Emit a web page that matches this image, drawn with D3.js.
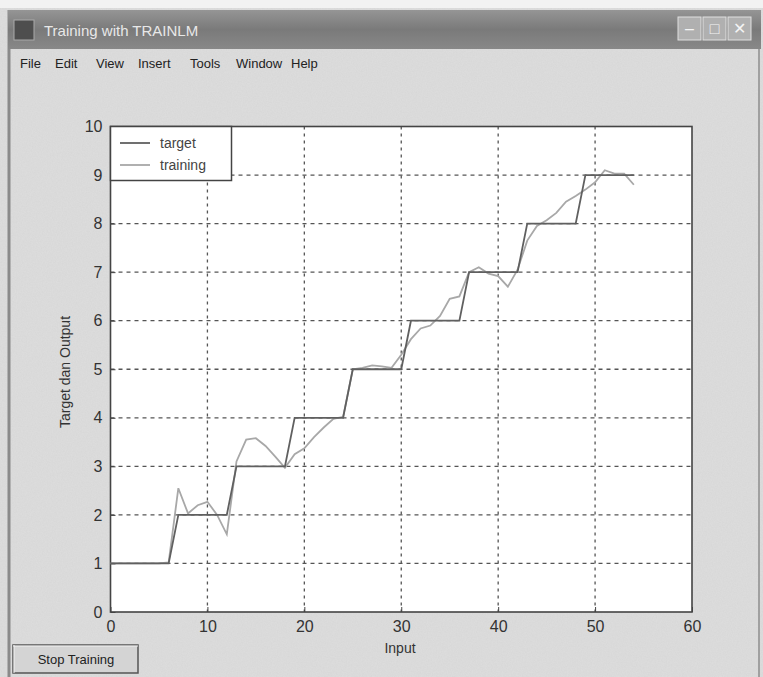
<!DOCTYPE html>
<html><head><meta charset="utf-8">
<script src="https://cdn.jsdelivr.net/npm/d3@7/dist/d3.min.js"></script>
<style>
html,body{margin:0;padding:0;background:#d9d9d9;}
svg{display:block;}
text{font-family:"Liberation Sans",Arial,sans-serif;}
</style></head>
<body>
<svg id="chart" width="763" height="677"></svg>
<script>
// ---- data ----
const inputs = [0,1,2,3,4,5,6,7,8,9,10,11,12,13,14,15,16,17,18,19,20,21,22,23,24,25,26,27,28,29,30,31,32,33,34,35,36,37,38,39,40,41,42,43,44,45,46,47,48,49,50,51,52,53,54];
const target = [1,1,1,1,1,1,1,2,2,2,2,2,2,3,3,3,3,3,3,4,4,4,4,4,4,5,5,5,5,5,5,6,6,6,6,6,6,7,7,7,7,7,7,8,8,8,8,8,8,9,9,9,9,9,9];
const training = [1.0,1.0,1.0,1.0,1.0,1.0,1.02,2.55,2.03,2.2,2.27,2.0,1.6,3.1,3.55,3.58,3.42,3.2,2.97,3.25,3.37,3.6,3.8,3.98,4.02,5.0,5.03,5.08,5.06,5.03,5.3,5.62,5.84,5.9,6.1,6.45,6.5,7.0,7.1,6.97,6.92,6.7,7.05,7.65,7.95,8.07,8.22,8.45,8.57,8.7,8.85,9.1,9.03,9.03,8.8];
const xTicks = [0,10,20,30,40,50,60];
const yTicks = [0,1,2,3,4,5,6,7,8,9,10];
const seriesNames = ["target","training"];
const menuItems = ["File","Edit","View","Insert","Tools","Window","Help"];
const windowTitle = "Training with TRAINLM";

const svg = d3.select("#chart");
const W = 763, H = 677;
const plot = {left:110.5, right:692, top:126.5, bottom:612};
const narrow = "'Liberation Sans Narrow','Liberation Sans',Arial,sans-serif";

const defs = svg.append("defs");
const noise = defs.append("filter").attr("id","noise").attr("x",0).attr("y",0).attr("width","100%").attr("height","100%");
noise.append("feTurbulence").attr("type","fractalNoise").attr("baseFrequency",0.8).attr("numOctaves",2).attr("seed",3).attr("result","t");
noise.append("feColorMatrix").attr("in","t").attr("type","matrix")
  .attr("values","0 0 0 0 0.5  0 0 0 0 0.5  0 0 0 0 0.5  0.6 0 0 0 -0.15");

// window chrome
svg.append("rect").attr("x",0).attr("y",0).attr("width",W).attr("height",H).attr("fill","#dcdcdc");
svg.append("rect").attr("x",0).attr("y",0).attr("width",W).attr("height",H).attr("filter","url(#noise)").attr("opacity",0.35);
svg.append("rect").attr("x",0).attr("y",0).attr("width",W).attr("height",8).attr("fill","#f2f2f2");
svg.append("line").attr("x1",9).attr("x2",9).attr("y1",10).attr("y2",H).attr("stroke","#8a8a8a").attr("stroke-width",3);
svg.append("line").attr("x1",759).attr("x2",759).attr("y1",10).attr("y2",H).attr("stroke","#a0a0a0").attr("stroke-width",2);
const grad = defs.append("linearGradient").attr("id","tb").attr("x1",0).attr("x2",0).attr("y1",0).attr("y2",1);
grad.append("stop").attr("offset","0%").attr("stop-color","#959595");
grad.append("stop").attr("offset","50%").attr("stop-color","#7a7a7a");
grad.append("stop").attr("offset","100%").attr("stop-color","#888");
svg.append("rect").attr("x",8).attr("y",10).attr("width",W-10).attr("height",39).attr("fill","url(#tb)");
svg.append("rect").attr("x",14).attr("y",20).attr("width",20).attr("height",20).attr("fill","#4e4e4e").attr("stroke","#aaa");
svg.append("text").attr("x",44).attr("y",36).attr("fill","#e8e8e8").attr("font-size",15).text(windowTitle);
// window buttons
[[678,"–"],[703,"□"],[728,"✕"]].forEach(([bx,s])=>{
  svg.append("rect").attr("x",bx).attr("y",17).attr("width",23).attr("height",23).attr("fill","#b0b0b0").attr("stroke","#e0e0e0");
  svg.append("text").attr("x",bx+11.5).attr("y",34).attr("text-anchor","middle").attr("fill","#f4f4f4").attr("font-size",16).text(s);
});
// menu
const menuX = [20,55,96,138,190,236,291];
menuItems.forEach((m,i)=>{
  svg.append("text").attr("x",menuX[i]).attr("y",68).attr("font-size",13).attr("font-family",narrow).attr("fill","#222").text(m);
});

// scales
const x = d3.scaleLinear().domain([0,60]).range([plot.left,plot.right]);
const y = d3.scaleLinear().domain([0,10]).range([plot.bottom,plot.top]);

// plot background
svg.append("rect").attr("x",plot.left).attr("y",plot.top).attr("width",plot.right-plot.left).attr("height",plot.bottom-plot.top).attr("fill","#fff");

// grid
const grid = svg.append("g");
grid.selectAll(".gx").data(xTicks.slice(1,-1)).join("line")
  .attr("x1",d=>x(d)).attr("x2",d=>x(d)).attr("y1",plot.top).attr("y2",plot.bottom)
  .attr("stroke","#555").attr("stroke-width",1.3).attr("stroke-dasharray","3,4");
grid.selectAll(".gy").data(yTicks.slice(1,-1)).join("line")
  .attr("x1",plot.left).attr("x2",plot.right).attr("y1",d=>y(d)).attr("y2",d=>y(d))
  .attr("stroke","#555").attr("stroke-width",1.3).attr("stroke-dasharray","4,4");

// axes
const xAxis = d3.axisBottom(x).tickValues(xTicks).tickSize(-5).tickPadding(9).tickFormat(d3.format("d"));
const yAxis = d3.axisLeft(y).tickValues(yTicks).tickSize(-5).tickPadding(8).tickFormat(d3.format("d"));
const gx = svg.append("g").attr("transform",`translate(0,${plot.bottom})`).call(xAxis);
const gy = svg.append("g").attr("transform",`translate(${plot.left},0)`).call(yAxis);
[gx,gy].forEach(g=>{
  g.select(".domain").remove();
  g.selectAll("line").attr("stroke","#444");
  g.selectAll("text").attr("font-size",16).attr("fill","#333").attr("font-family",narrow);
});
// box
svg.append("rect").attr("x",plot.left).attr("y",plot.top).attr("width",plot.right-plot.left).attr("height",plot.bottom-plot.top)
  .attr("fill","none").attr("stroke","#444").attr("stroke-width",1.6);

// lines
const line = d3.line().x((d,i)=>x(inputs[i])).y(d=>y(d));
svg.append("path").datum(training).attr("d",line).attr("fill","none").attr("stroke","#a8a8a8").attr("stroke-width",1.8);
svg.append("path").datum(target).attr("d",line).attr("fill","none").attr("stroke","#606060").attr("stroke-width",1.8);

// legend
const lg = svg.append("g");
lg.append("rect").attr("x",plot.left).attr("y",plot.top).attr("width",121).attr("height",54).attr("fill","#fff").attr("stroke","#444").attr("stroke-width",1.5);
const legColors = ["#606060","#a8a8a8"];
seriesNames.forEach((n,i)=>{
  const ly = 143 + i*22;
  lg.append("line").attr("x1",120).attr("x2",150).attr("y1",ly).attr("y2",ly).attr("stroke",legColors[i]).attr("stroke-width",1.8);
  lg.append("text").attr("x",160).attr("y",ly+5).attr("font-size",14).attr("fill","#444").text(n);
});

// axis labels
svg.append("text").attr("x",400).attr("y",653).attr("text-anchor","middle").attr("font-size",14).attr("fill","#333").text("Input");
svg.append("text").attr("transform","translate(70,372) rotate(-90)").attr("text-anchor","middle").attr("font-size",14).attr("fill","#333").text("Target dan Output");

// stop button
svg.append("rect").attr("x",13).attr("y",645).attr("width",125).attr("height",28).attr("fill","#d4d4d4").attr("stroke","#555").attr("stroke-width",1.5);
svg.append("line").attr("x1",13).attr("x2",138).attr("y1",646).attr("y2",646).attr("stroke","#f2f2f2");
svg.append("line").attr("x1",14).attr("x2",14).attr("y1",645).attr("y2",673).attr("stroke","#f2f2f2");
svg.append("text").attr("x",76).attr("y",664).attr("text-anchor","middle").attr("font-size",13).attr("fill","#222").text("Stop Training");
</script>
</body></html>
